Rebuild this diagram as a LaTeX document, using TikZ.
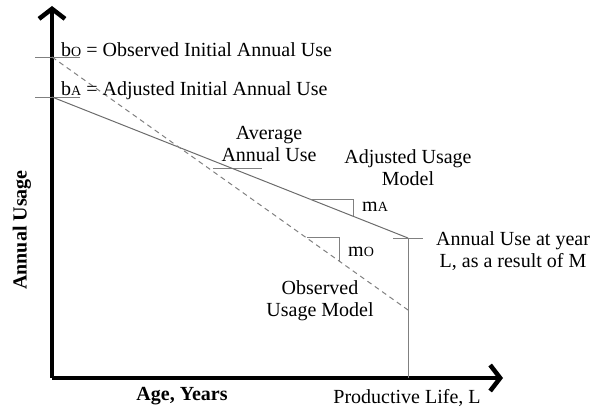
\documentclass[tikz,border=0pt]{standalone}
\usepackage{fontspec}
\setmainfont{Liberation Serif}
\usetikzlibrary{arrows.meta}
\newcommand{\lowcap}[1]{{\fontsize{14}{14}\selectfont #1}}
\begin{document}
\begin{tikzpicture}[x=1pt, y=-1pt, font=\fontsize{20}{22}\selectfont,
    axis/.style={line width=4.5pt, -{Straight Barb[length=10pt, width=26pt, line width=4.5pt]}},
    guide/.style={gray, line width=0.9pt},
    lbl/.style={inner sep=0pt, align=center},
    bold/.style={font=\fontsize{20}{22}\selectfont\bfseries}]
    \useasboundingbox (0,0) rectangle (595,409);

    \coordinate (O) at (52,378);
    \draw[axis] (O) -- (52,6);
    \draw[axis] (O) -- (503,378);

    \coordinate (bo) at (52,57);
    \coordinate (ba) at (52,97);
    \coordinate (endA) at (408,238);
    \coordinate (endO) at (408,310);
    \coordinate (L) at (408,378);

    \draw[guide] (35,57) -- (80,57);
    \draw[guide] (35,97) -- (80,97);
    \draw[guide] (213,168) -- (262,168);
    \draw[guide] (393,238) -- (423,238);
    \draw[guide] (endA) -- (L);

    \draw[gray!85!black, line width=1pt] (ba) -- (endA);
    \draw[gray, line width=1pt, dash pattern=on 5pt off 4pt] (bo) -- (endO);

    \draw[guide] (310,199) -- (353,199) -- (353,216);
    \draw[guide] (307,237) -- (339,237) -- (339,261);

    \node[lbl, anchor=base west] (tbo) at (61,57) {b\lowcap{O} = Observed Initial Annual Use};
    \node[lbl, anchor=base west] (tba) at (61,96) {b\lowcap{A} = Adjusted Initial Annual Use};
    \node[lbl] (avg) at (269,144) {Average\\Annual Use};
    \node[lbl] (adj) at (408,168) {Adjusted Usage\\Model};
    \node[lbl, anchor=base west] (ma) at (362,212) {m\lowcap{A}};
    \node[lbl, anchor=base west] (mo) at (348,256) {m\lowcap{O}};
    \node[lbl] (aul) at (513,251) {Annual Use at year\\L, as a result of M};
    \node[lbl] (obs) at (320,301) {Observed\\Usage Model};
    \node[lbl, bold, rotate=90] (yl) at (22,230) {Annual Usage};
    \node[lbl, bold, anchor=base] (xl) at (182,400) {Age, Years};
    \node[lbl, anchor=base] (pl) at (407,403) {Productive Life, L};
\end{tikzpicture}
\end{document}
